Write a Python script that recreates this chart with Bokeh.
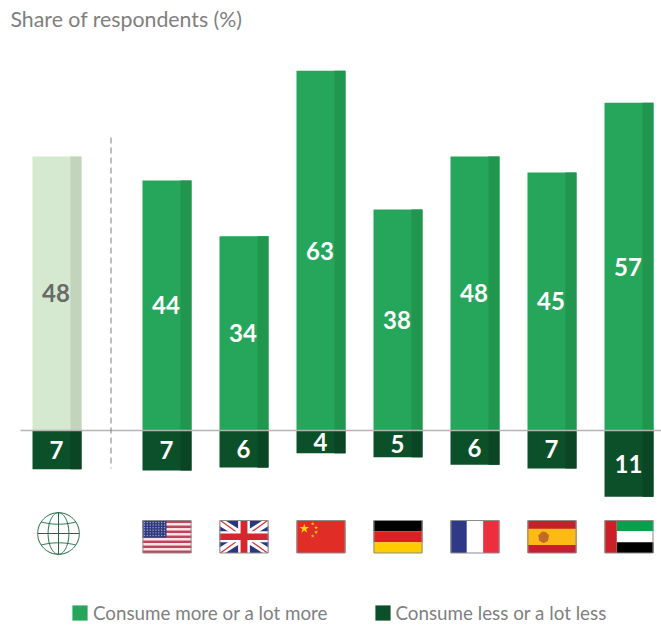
import numpy as np
from bokeh.plotting import figure
from bokeh.models import Range1d, Label, Legend, LegendItem, ColumnDataSource
from bokeh.embed import file_html
from bokeh.resources import INLINE

# ---- data ----
regions = ["Global", "US", "UK", "China", "Germany", "France", "Spain", "UAE"]
more_values = [48, 43.8, 34, 63, 38.7, 48, 45.2, 57.4]
less_values = [6.8, 7, 6.5, 4, 4.7, 6, 6.65, 11.6]
more_labels = ["48", "44", "34", "63", "38", "48", "45", "57"]
less_labels = ["7", "7", "6", "4", "5", "6", "7", "11"]
title_text = "Share of respondents (%)"
legend_more = "Consume more or a lot more"
legend_less = "Consume less or a lot less"

# ---- style ----
W, H = 661, 626
PX = 5.71          # pixels per percentage point
ZERO_PAGE = 430
FONT = "Lato"
GREEN, GREEN_S = "#25a65a", "#21964f"
LIGHT, LIGHT_S = "#d4e9d0", "#c2d5bc"
DARK, DARK_S = "#0c5029", "#0a4524"
PITCH, BAR = 77, 49

def ypx(page):
    return (ZERO_PAGE - page) / PX

p = figure(width=W, height=H, output_backend="svg", toolbar_location=None,
           x_range=Range1d(0, W), y_range=Range1d(ypx(H), ypx(0)),
           min_border=0, outline_line_color=None)
p.xaxis.visible = False
p.yaxis.visible = False
p.grid.visible = False
p.background_fill_color = "white"
p.border_fill_color = "white"

centers = [56.5] + [166.5 + PITCH * i for i in range(7)]
more_fill = [LIGHT] + [GREEN] * 7
more_shade = [LIGHT_S] + [GREEN_S] * 7
more_text = ["#6a6a6a"] + ["white"] * 7

src = ColumnDataSource(dict(
    x=centers, more=more_values, less=[-v for v in less_values],
    more_mid=[v / 2 for v in more_values], less_mid=[-v / 2 for v in less_values],
    more_x=[c - 1 for c in centers], less_x=[c - .5 for c in centers],
    more_labels=more_labels, less_labels=less_labels,
    fill=more_fill, shade=more_shade, tcol=more_text,
    sl=[c + 13.5 for c in centers], sr=[c + BAR / 2 for c in centers],
    z=[0] * 8))

r_more = p.vbar(x="x", width=BAR, bottom="z", top="more", fill_color="fill", line_color=None, source=src)
p.quad(left="sl", right="sr", bottom="z", top="more", fill_color="shade", line_color=None, source=src)
r_less = p.vbar(x="x", width=BAR, bottom="less", top="z", fill_color=DARK, line_color=None, source=src)
p.quad(left="sl", right="sr", bottom="less", top="z", fill_color=DARK_S, line_color=None, source=src)

# baseline and separator
p.segment(x0=[20], x1=[661], y0=[0], y1=[0], line_color="#b4b4b4", line_width=1.6)
p.segment(x0=[110.5], x1=[110.5], y0=[ypx(137)], y1=[ypx(468)], line_color="#7c7c7c", line_width=1, line_dash="6 4")

# value labels
p.text(x="more_x", y="more_mid", text="more_labels", text_color="tcol", text_font=dict(value=FONT),
       text_font_size="24px", text_font_style="bold", text_align="center", text_baseline="middle", source=src)
p.text(x="less_x", y="less_mid", text="less_labels", text_color="white", text_font=dict(value=FONT),
       text_font_size="24px", text_font_style="bold", text_align="center", text_baseline="middle", source=src)

# ---- flags ----
F_TOP, F_BOT = 520, 552.5

def poly(c, pts, color):
    xs = [c - BAR / 2 + u * BAR for u, v in pts]
    ys = [ypx(F_TOP + v * (F_BOT - F_TOP)) for u, v in pts]
    p.patch(xs, ys, fill_color=color, line_color=None)

def box(c, u0, u1, v0, v1, color):
    poly(c, [(u0, v0), (u1, v0), (u1, v1), (u0, v1)], color)

def border(c):
    xs = [c - BAR / 2 + .5, c + BAR / 2 - .5, c + BAR / 2 - .5, c - BAR / 2 + .5, c - BAR / 2 + .5]
    ys = [ypx(F_TOP), ypx(F_TOP), ypx(F_BOT), ypx(F_BOT), ypx(F_TOP)]
    p.line(xs, ys, line_color="#8c8c8c", line_width=1)

# US
c = centers[1]
for i in range(13):
    box(c, 0, 1, i / 13, (i + 1) / 13, "#c4415c" if i % 2 == 0 else "#f7e6e8")
box(c, 0, .49, 0, .52, "#2f3a7d")
su = np.linspace(.04, .45, 8)
sv = np.linspace(.06, .46, 6)
p.scatter([c - BAR / 2 + u * BAR for u in su for v in sv],
          [ypx(F_TOP + v * (F_BOT - F_TOP)) for u in su for v in sv],
          size=1.4, color="#a9add0", line_color=None)
border(c)

# UK
c = centers[2]
box(c, 0, 1, 0, 1, "#2b3580")
d, e = .12, .17
poly(c, [(0, 0), (d, 0), (1, 1 - e), (1, 1), (1 - d, 1), (0, e)], "white")
poly(c, [(1, 0), (1 - d, 0), (0, 1 - e), (0, 1), (d, 1), (1, e)], "white")
d, e = .04, .06
poly(c, [(0, 0), (d, 0), (.5, .5), (.5 - d, .5)], "#d6262e")
poly(c, [(1, 1), (1 - d, 1), (.5, .5), (.5 + d, .5)], "#d6262e")
poly(c, [(1, 0), (1 - d, 0), (.5, .5), (.5 + d, .5)], "#d6262e")
poly(c, [(0, 1), (d, 1), (.5, .5), (.5 - d, .5)], "#d6262e")
box(c, .38, .62, 0, 1, "white")
box(c, 0, 1, .33, .67, "white")
box(c, .43, .57, 0, 1, "#d6262e")
box(c, 0, 1, .40, .60, "#d6262e")
border(c)

# China
c = centers[3]
box(c, 0, 1, 0, 1, "#e02e26")
p.scatter([c - BAR / 2 + .16 * BAR], [ypx(F_TOP + .25 * (F_BOT - F_TOP))], marker="star",
          size=10, color="#ffd400", line_color=None)
p.scatter([c - BAR / 2 + u * BAR for u in (.33, .40, .40, .33)],
          [ypx(F_TOP + v * (F_BOT - F_TOP)) for v in (.10, .22, .36, .48)],
          marker="star", size=4, color="#ffd400", line_color=None)
border(c)

# Germany
c = centers[4]
box(c, 0, 1, 0, 1 / 3, "#000000")
box(c, 0, 1, 1 / 3, 2 / 3, "#dd2020")
box(c, 0, 1, 2 / 3, 1, "#ffcc00")
border(c)

# France
c = centers[5]
box(c, 0, 1 / 3, 0, 1, "#2e3a87")
box(c, 1 / 3, 2 / 3, 0, 1, "#ffffff")
box(c, 2 / 3, 1, 0, 1, "#ee2e3c")
border(c)

# Spain
c = centers[6]
box(c, 0, 1, 0, 1, "#c8202a")
box(c, 0, 1, .25, .75, "#fbbb14")
poly(c, [(.22, .46), (.30, .34), (.38, .36), (.44, .46), (.42, .62), (.33, .70), (.24, .62)], "#c0692a")
border(c)

# UAE
c = centers[7]
box(c, .25, 1, 0, 1 / 3, "#0a9e4d")
box(c, .25, 1, 1 / 3, 2 / 3, "#ffffff")
box(c, .25, 1, 2 / 3, 1, "#000000")
box(c, 0, .25, 0, 1, "#cc2027")
border(c)

# ---- globe ----
gx, gy, R = 58, 533, 20.8
G = "#1d6a43"
t = np.linspace(0, 2 * np.pi, 121)
for rx in (R, R * .5):
    p.line(gx + rx * np.cos(t), ypx(gy) + R * np.sin(t) / PX, line_color=G, line_width=1)
p.segment(x0=[gx], x1=[gx], y0=[ypx(gy - R)], y1=[ypx(gy + R)], line_color=G, line_width=1)
p.segment(x0=[gx - R], x1=[gx + R], y0=[ypx(gy)], y1=[ypx(gy)], line_color=G, line_width=1)
u = np.linspace(-1, 1, 41)
hw = R * .83
p.line(gx + hw * u, ypx(gy - 11.5) - (1 - u ** 2) * 2.2 / PX, line_color=G, line_width=1)
p.line(gx + hw * u, ypx(gy + 11.5) + (1 - u ** 2) * 2.2 / PX, line_color=G, line_width=1)

# ---- title & legend ----
p.add_layout(Label(x=10, y=H - 18, x_units="screen", y_units="screen", text=title_text,
                   text_font=FONT, text_font_size="21.3px", text_color="#808080",
                   text_baseline="middle"))
legend = Legend(items=[LegendItem(label=legend_more, renderers=[r_more], index=1),
                       LegendItem(label=legend_less, renderers=[r_less], index=1)],
                orientation="horizontal", location=(70, 2), spacing=45, padding=0, margin=0,
                glyph_width=19, glyph_height=19, label_standoff=4, label_height=15,
                label_text_font=FONT, label_text_font_size="18.8px", label_text_color="#808080",
                background_fill_alpha=0, border_line_color=None)
p.add_layout(legend)

open("out.html", "w").write(file_html(p, INLINE))
